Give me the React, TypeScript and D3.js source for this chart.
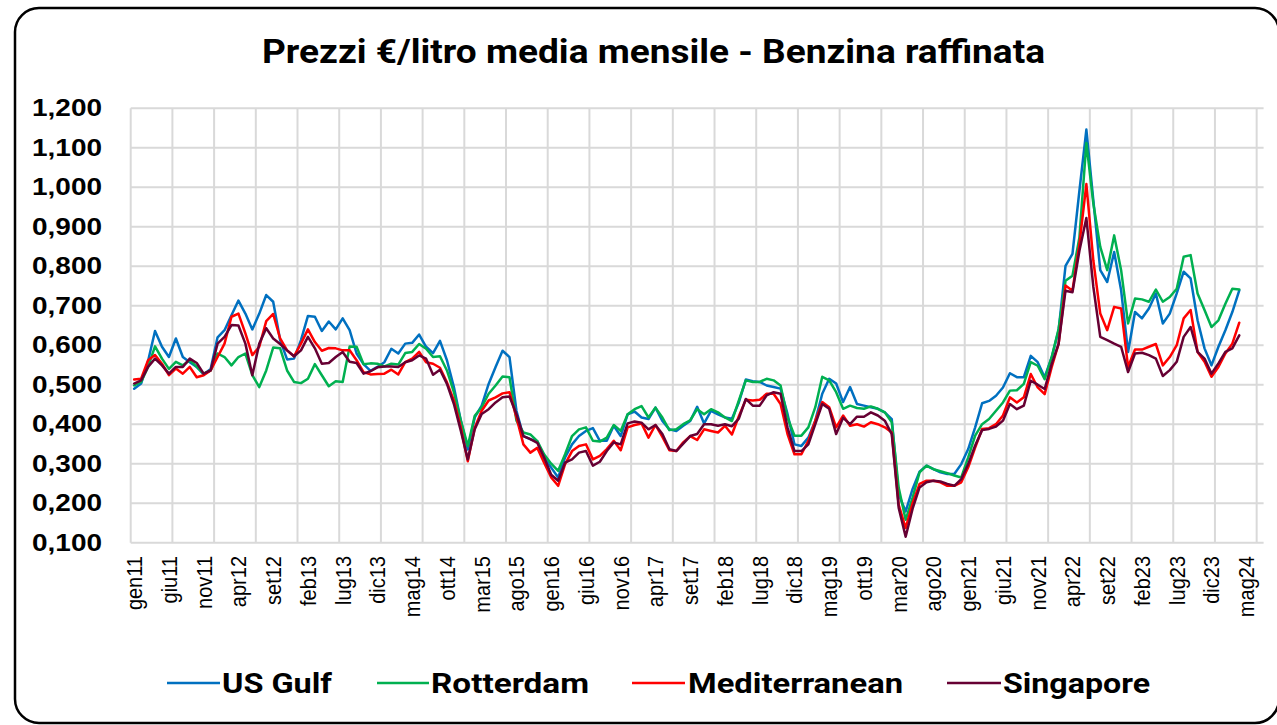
import React from "react";
import * as d3 from "d3";

const W = 1277;
const H = 725;

const TITLE = "Prezzi €/litro media mensile - Benzina raffinata";
const SERIES_NAMES = ["US Gulf", "Rotterdam", "Mediterranean", "Singapore"];
const SERIES_COLORS = ["#0070C0", "#00B050", "#FF0000", "#660033"];

// Monthly values, gen11 .. apr24
const usGulf = [
  0.490, 0.503, 0.560, 0.636, 0.596, 0.570, 0.617, 0.570, 0.557, 0.545, 0.526, 0.540,
  0.620, 0.638, 0.676, 0.713, 0.680, 0.640, 0.680, 0.727, 0.710, 0.613, 0.564, 0.566,
  0.613, 0.674, 0.672, 0.636, 0.660, 0.640, 0.668, 0.638, 0.579, 0.552, 0.535, 0.545,
  0.557, 0.591, 0.579, 0.604, 0.606, 0.627, 0.596, 0.580, 0.611, 0.562, 0.494, 0.409,
  0.336, 0.417, 0.447, 0.502, 0.545, 0.586, 0.570, 0.434, 0.370, 0.362, 0.357, 0.315,
  0.290, 0.265, 0.316, 0.349, 0.370, 0.383, 0.390, 0.358, 0.358, 0.396, 0.370, 0.425,
  0.432, 0.417, 0.413, 0.442, 0.408, 0.387, 0.383, 0.396, 0.408, 0.444, 0.402, 0.434,
  0.425, 0.417, 0.414, 0.455, 0.513, 0.509, 0.507, 0.498, 0.494, 0.490, 0.426, 0.349,
  0.345, 0.366, 0.409, 0.477, 0.515, 0.503, 0.456, 0.494, 0.451, 0.447, 0.443, 0.439,
  0.430, 0.413, 0.222, 0.179, 0.236, 0.280, 0.295, 0.286, 0.278, 0.274, 0.274, 0.299,
  0.337, 0.392, 0.453, 0.459, 0.472, 0.493, 0.529, 0.519, 0.519, 0.573, 0.557, 0.519,
  0.569, 0.637, 0.801, 0.831, 0.991, 1.146, 0.967, 0.790, 0.760, 0.836, 0.739, 0.583,
  0.684, 0.668, 0.693, 0.731, 0.655, 0.680, 0.731, 0.786, 0.769, 0.663, 0.592, 0.549,
  0.596, 0.638, 0.684, 0.739,
];

const rotterdam = [
  0.498, 0.507, 0.545, 0.597, 0.566, 0.540, 0.558, 0.549, 0.562, 0.545, 0.528, 0.536,
  0.579, 0.570, 0.549, 0.570, 0.579, 0.524, 0.494, 0.536, 0.594, 0.592, 0.536, 0.507,
  0.504, 0.515, 0.552, 0.524, 0.496, 0.509, 0.507, 0.597, 0.596, 0.552, 0.554, 0.553,
  0.546, 0.553, 0.551, 0.580, 0.583, 0.603, 0.591, 0.570, 0.572, 0.536, 0.481, 0.409,
  0.345, 0.421, 0.443, 0.477, 0.498, 0.521, 0.519, 0.409, 0.379, 0.374, 0.357, 0.323,
  0.300, 0.282, 0.324, 0.370, 0.387, 0.392, 0.358, 0.356, 0.366, 0.398, 0.383, 0.425,
  0.438, 0.446, 0.417, 0.442, 0.417, 0.385, 0.387, 0.400, 0.410, 0.438, 0.425, 0.438,
  0.430, 0.417, 0.408, 0.460, 0.511, 0.507, 0.507, 0.515, 0.511, 0.498, 0.417, 0.371,
  0.371, 0.392, 0.443, 0.520, 0.511, 0.481, 0.439, 0.447, 0.441, 0.439, 0.445, 0.439,
  0.430, 0.405, 0.239, 0.158, 0.214, 0.278, 0.295, 0.286, 0.281, 0.276, 0.270, 0.265,
  0.316, 0.371, 0.400, 0.413, 0.434, 0.455, 0.485, 0.486, 0.502, 0.557, 0.548, 0.514,
  0.569, 0.641, 0.763, 0.776, 0.873, 1.112, 0.959, 0.849, 0.790, 0.878, 0.790, 0.655,
  0.718, 0.716, 0.710, 0.741, 0.710, 0.722, 0.743, 0.824, 0.828, 0.731, 0.689, 0.646,
  0.663, 0.705, 0.743, 0.741,
];

const mediterranean = [
  0.513, 0.515, 0.562, 0.575, 0.553, 0.524, 0.541, 0.528, 0.545, 0.519, 0.524, 0.536,
  0.570, 0.604, 0.672, 0.680, 0.630, 0.575, 0.596, 0.661, 0.679, 0.617, 0.587, 0.572,
  0.604, 0.640, 0.608, 0.586, 0.593, 0.592, 0.587, 0.587, 0.562, 0.532, 0.526, 0.527,
  0.528, 0.538, 0.526, 0.557, 0.566, 0.583, 0.557, 0.553, 0.543, 0.506, 0.460, 0.391,
  0.306, 0.391, 0.434, 0.460, 0.468, 0.478, 0.481, 0.417, 0.349, 0.328, 0.340, 0.302,
  0.265, 0.244, 0.299, 0.332, 0.345, 0.349, 0.311, 0.320, 0.337, 0.358, 0.334, 0.392,
  0.398, 0.402, 0.366, 0.398, 0.368, 0.334, 0.332, 0.354, 0.370, 0.360, 0.387, 0.383,
  0.379, 0.396, 0.374, 0.420, 0.462, 0.460, 0.462, 0.477, 0.477, 0.451, 0.375, 0.324,
  0.324, 0.358, 0.409, 0.456, 0.443, 0.392, 0.422, 0.396, 0.400, 0.394, 0.405, 0.400,
  0.392, 0.379, 0.196, 0.137, 0.200, 0.249, 0.257, 0.257, 0.253, 0.244, 0.244, 0.253,
  0.291, 0.341, 0.388, 0.390, 0.400, 0.422, 0.468, 0.455, 0.468, 0.527, 0.493, 0.476,
  0.544, 0.603, 0.751, 0.738, 0.856, 1.008, 0.815, 0.680, 0.638, 0.697, 0.693, 0.545,
  0.589, 0.589, 0.596, 0.603, 0.549, 0.570, 0.600, 0.668, 0.689, 0.583, 0.558, 0.520,
  0.545, 0.579, 0.604, 0.657,
];

const singapore = [
  0.503, 0.511, 0.545, 0.566, 0.549, 0.528, 0.545, 0.545, 0.566, 0.555, 0.528, 0.536,
  0.604, 0.621, 0.651, 0.650, 0.604, 0.524, 0.604, 0.643, 0.617, 0.603, 0.587, 0.572,
  0.587, 0.621, 0.592, 0.553, 0.555, 0.570, 0.583, 0.558, 0.555, 0.528, 0.534, 0.544,
  0.546, 0.546, 0.545, 0.557, 0.562, 0.574, 0.566, 0.525, 0.538, 0.502, 0.451, 0.383,
  0.311, 0.387, 0.426, 0.438, 0.455, 0.468, 0.470, 0.426, 0.370, 0.362, 0.353, 0.315,
  0.272, 0.257, 0.303, 0.311, 0.328, 0.332, 0.295, 0.305, 0.332, 0.354, 0.349, 0.402,
  0.407, 0.404, 0.387, 0.398, 0.375, 0.337, 0.332, 0.351, 0.370, 0.375, 0.400, 0.400,
  0.396, 0.400, 0.395, 0.414, 0.464, 0.447, 0.447, 0.473, 0.481, 0.477, 0.392, 0.332,
  0.332, 0.349, 0.400, 0.451, 0.439, 0.375, 0.416, 0.400, 0.419, 0.419, 0.430, 0.422,
  0.409, 0.375, 0.188, 0.115, 0.186, 0.240, 0.253, 0.257, 0.255, 0.249, 0.244, 0.261,
  0.299, 0.346, 0.385, 0.388, 0.394, 0.409, 0.451, 0.438, 0.447, 0.510, 0.500, 0.489,
  0.552, 0.603, 0.738, 0.734, 0.839, 0.922, 0.748, 0.621, 0.613, 0.604, 0.596, 0.532,
  0.579, 0.581, 0.575, 0.566, 0.522, 0.537, 0.558, 0.621, 0.646, 0.583, 0.566, 0.528,
  0.554, 0.583, 0.592, 0.625,
];

const X_TICK_LABELS = [
  "gen11", "giu11", "nov11", "apr12", "set12", "feb13", "lug13", "dic13", "mag14",
  "ott14", "mar15", "ago15", "gen16", "giu16", "nov16", "apr17", "set17", "feb18",
  "lug18", "dic18", "mag19", "ott19", "mar20", "ago20", "gen21", "giu21", "nov21",
  "apr22", "set22", "feb23", "lug23", "dic23", "mag24",
];
const LABEL_STEP = 5;
const GRID_STEP = 6;
const N_CATEGORIES = 163;
const Y_TICKS = [0.1, 0.2, 0.3, 0.4, 0.5, 0.6, 0.7, 0.8, 0.9, 1.0, 1.1, 1.2];

const SERIES = [usGulf, rotterdam, mediterranean, singapore];

const itLocale = d3.formatLocale({
  decimal: ",",
  thousands: ".",
  grouping: [3],
  currency: ["", "€"],
});
const fmtY = itLocale.format(".3f");

export default function App() {
  const plotLeft = 130.7;
  const plotRight = 1263.6;
  const plotTop = 108.2;
  const plotBottom = 542.7;

  const x = d3
    .scaleBand<number>()
    .domain(d3.range(N_CATEGORIES))
    .range([plotLeft, plotRight])
    .paddingInner(0)
    .paddingOuter(0);
  const bw = x.bandwidth();
  const cx = (i: number) => (x(i) as number) + bw / 2;

  const y = d3.scaleLinear().domain([0.1, 1.2]).range([plotBottom, plotTop]);

  const line = d3
    .line<number>()
    .x((_, i) => cx(i))
    .y((d) => y(d));

  const vGrid = d3.range(0, N_CATEGORIES, GRID_STEP).map((i) => x(i) as number);

  const legendItems = [
    { name: SERIES_NAMES[0], color: SERIES_COLORS[0], x1: 167, x2: 220, tx: 222, tl: 110 },
    { name: SERIES_NAMES[1], color: SERIES_COLORS[1], x1: 377, x2: 429, tx: 431, tl: 158 },
    { name: SERIES_NAMES[2], color: SERIES_COLORS[2], x1: 632, x2: 685, tx: 688, tl: 215 },
    { name: SERIES_NAMES[3], color: SERIES_COLORS[3], x1: 947, x2: 1001, tx: 1003, tl: 147 },
  ];

  return (
    <svg
      width={W}
      height={H}
      style={{ position: "absolute", left: 0, top: 0, background: "#fff" }}
      xmlns="http://www.w3.org/2000/svg"
    >
      <rect x={0} y={0} width={W} height={H} fill="#fff" />
      <rect
        x={15}
        y={8}
        width={1264}
        height={715}
        rx={24}
        ry={24}
        fill="#fff"
        stroke="#000"
        strokeWidth={2.5}
      />

      <text
        x={653.5}
        y={63}
        textAnchor="middle"
        fontFamily="'Liberation Sans Narrow', Roboto, 'Liberation Sans', sans-serif"
        fontWeight="bold"
        fontSize={34}
        textLength={783}
        lengthAdjust="spacingAndGlyphs"
        fill="#000"
      >
        {TITLE}
      </text>

      {/* grid */}
      <g stroke="#D9D9D9" strokeWidth={2}>
        {Y_TICKS.map((t) => (
          <line key={"h" + t} x1={plotLeft} x2={plotRight} y1={y(t)} y2={y(t)} />
        ))}
        {vGrid.map((gx, k) => (
          <line key={"v" + k} x1={gx} x2={gx} y1={plotTop} y2={plotBottom} />
        ))}
      </g>

      {/* y labels */}
      <g
        fontFamily="'Liberation Sans', Arial, sans-serif"
        fontWeight="bold"
        fontSize={23}
        fill="#000"
      >
        {Y_TICKS.map((t) => (
          <text
            key={"yl" + t}
            x={102}
            y={y(t) + 8}
            textAnchor="end"
            textLength={70}
            lengthAdjust="spacingAndGlyphs"
          >
            {fmtY(t)}
          </text>
        ))}
      </g>

      {/* x labels */}
      <g fontFamily="'Liberation Sans', Arial, sans-serif" fontSize={20} fill="#000">
        {X_TICK_LABELS.map((lab, k) => (
          <text
            key={lab}
            transform={`translate(${cx(k * LABEL_STEP)},556) scale(1.1,1) rotate(-90)`}
            textAnchor="end"
            dominantBaseline="central"
          >
            {lab}
          </text>
        ))}
      </g>

      {/* series */}
      <g fill="none" strokeWidth={2.5} strokeLinejoin="round" strokeLinecap="round">
        {SERIES.map((s, k) => (
          <path key={SERIES_NAMES[k]} d={line(s) || ""} stroke={SERIES_COLORS[k]} />
        ))}
      </g>

      {/* legend */}
      <g>
        {legendItems.map((it) => (
          <g key={it.name}>
            <line x1={it.x1} x2={it.x2} y1={683} y2={683} stroke={it.color} strokeWidth={2.5} />
            <text
              x={it.tx}
              y={693}
              fontFamily="'Liberation Sans Narrow', Roboto, 'Liberation Sans', sans-serif"
              fontWeight="bold"
              fontSize={28}
              textLength={it.tl}
              lengthAdjust="spacingAndGlyphs"
              fill="#000"
            >
              {it.name}
            </text>
          </g>
        ))}
      </g>
    </svg>
  );
}
